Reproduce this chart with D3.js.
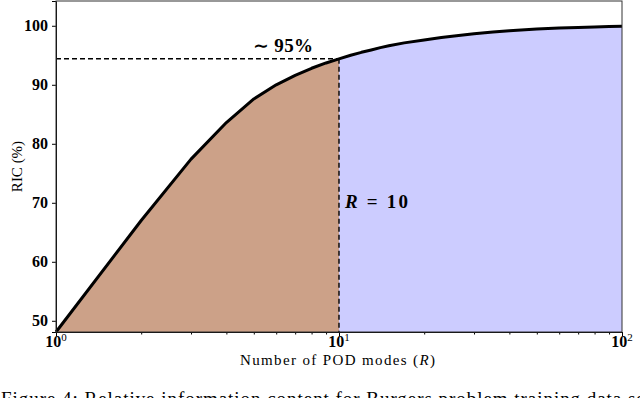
<!DOCTYPE html>
<html>
<head>
<meta charset="utf-8">
<script src="https://cdn.jsdelivr.net/npm/d3@7"></script>
<style>
  body { margin: 0; background: #fff; }
  svg text { font-family: "Liberation Serif", "DejaVu Serif", serif; }
</style>
</head>
<body>
<div id="chart"></div>
<script>
// number of POD modes and relative information content (%)
const modes = [1, 2, 3, 4, 5, 6, 7, 8, 9, 10, 11, 12, 13, 14, 15, 17, 20, 23, 26, 30, 35, 40, 50, 60, 70, 80, 90, 100];
const ric = [48.1, 67.0, 77.4, 83.6, 87.6, 90.0, 91.6, 92.8, 93.7, 94.4, 95.0, 95.5, 95.9, 96.3, 96.6, 97.1, 97.6, 98.0, 98.3, 98.65, 98.95, 99.15, 99.45, 99.62, 99.72, 99.8, 99.86, 99.9];
const cutoff = 10;
const yTicks = [50, 60, 70, 80, 90, 100];
const xTicks = [1, 10, 100];
const xTickExp = ["0", "1", "2"];

const data = modes.map((m, i) => ({ r: m, v: ric[i] }));
const cutVal = ric[modes.indexOf(cutoff)];

const width = 640, height = 398;
const margin = { top: 1, right: 18, bottom: 66, left: 56 };

const svg = d3.select("#chart").append("svg")
    .attr("width", width)
    .attr("height", height);

const x = d3.scaleLog()
    .domain([1, 100])
    .range([margin.left, width - margin.right]);

const y = d3.scaleLinear()
    .domain([48.1, 104.2])
    .range([height - margin.bottom, margin.top]);

const area = d3.area()
    .x(d => x(d.r))
    .y0(y(48.1))
    .y1(d => y(d.v));

svg.append("path")
    .datum(data.filter(d => d.r <= cutoff))
    .attr("fill", "#cca188")
    .attr("d", area);

svg.append("path")
    .datum(data.filter(d => d.r >= cutoff))
    .attr("fill", "#ccccff")
    .attr("d", area);

// dashed guides
svg.append("line")
    .attr("x1", x(1)).attr("x2", x(cutoff))
    .attr("y1", y(cutVal)).attr("y2", y(cutVal))
    .attr("stroke", "#000")
    .attr("stroke-width", 1.4)
    .attr("stroke-dasharray", "5,3");

svg.append("line")
    .attr("x1", x(cutoff)).attr("x2", x(cutoff))
    .attr("y1", y(cutVal)).attr("y2", y(48.1))
    .attr("stroke", "#000")
    .attr("stroke-width", 1.4)
    .attr("stroke-dasharray", "5,3");

svg.append("path")
    .datum(data)
    .attr("fill", "none")
    .attr("stroke", "#000")
    .attr("stroke-width", 3)
    .attr("stroke-linejoin", "round")
    .attr("d", d3.line().x(d => x(d.r)).y(d => y(d.v)));

// axes
const xAxis = svg.append("g")
    .attr("transform", `translate(0,${height - margin.bottom})`)
    .call(d3.axisBottom(x).tickValues(xTicks).tickSize(4).tickFormat(""));
xAxis.selectAll(".tick text").remove();

const minor = [];
[1, 10].forEach(b => { for (let k = 2; k <= 9; k++) minor.push(b * k); });
svg.append("g")
    .attr("transform", `translate(0,${height - margin.bottom})`)
    .call(d3.axisBottom(x).tickValues(minor).tickSize(2.5).tickFormat(""))
    .call(g => g.select(".domain").remove());

xTicks.forEach((t, i) => {
    const txt = svg.append("text")
        .attr("x", x(t))
        .attr("y", height - margin.bottom + 15)
        .attr("text-anchor", "middle")
        .style("font-size", "16px")
        .style("font-weight", "bold");
    txt.append("tspan").text("10");
    txt.append("tspan")
        .attr("dy", "-6")
        .style("font-size", "11px")
        .style("font-weight", "normal")
        .text(xTickExp[i]);
});

svg.append("g")
    .attr("transform", `translate(${margin.left},0)`)
    .call(d3.axisLeft(y).tickValues(yTicks).tickSize(4).tickPadding(4))
    .call(g => g.selectAll(".tick text")
        .style("font-size", "16px")
        .style("font-weight", "bold")
        .style("font-family", "'Liberation Serif', serif"));

// frame
svg.append("rect")
    .attr("x", margin.left)
    .attr("y", margin.top)
    .attr("width", width - margin.left - margin.right)
    .attr("height", height - margin.top - margin.bottom)
    .attr("fill", "none")
    .attr("stroke", "#333")
    .attr("stroke-width", 1);

// annotations
svg.append("text")
    .attr("x", 253)
    .attr("y", 52)
    .attr("textLength", 60)
    .attr("lengthAdjust", "spacing")
    .style("font-size", "19px")
    .style("font-weight", "bold")
    .text("∼ 95%");

const rLab = svg.append("text")
    .attr("x", 345)
    .attr("y", 208)
    .attr("textLength", 63)
    .attr("lengthAdjust", "spacing")
    .style("font-size", "19px")
    .style("font-weight", "bold");
rLab.append("tspan").style("font-style", "italic").text("R");
rLab.append("tspan").text(" = 10");

// axis labels
svg.append("text")
    .attr("transform", `translate(22,${(margin.top + height - margin.bottom) / 2}) rotate(-90)`)
    .attr("text-anchor", "middle")
    .style("font-size", "15px")
    .text("RIC (%)");

const xl = svg.append("text")
    .attr("x", 240)
    .attr("y", 365)
    .attr("textLength", 195)
    .attr("lengthAdjust", "spacing")
    .style("font-size", "15px");
xl.append("tspan").text("Number of POD modes (");
xl.append("tspan").style("font-style", "italic").text("R");
xl.append("tspan").text(")");

// caption, cut off by the window edge
svg.append("text")
    .attr("x", 1)
    .attr("y", 405)
    .attr("textLength", 650)
    .attr("lengthAdjust", "spacing")
    .style("font-size", "19px")
    .text("Figure 4: Relative information content for Burgers problem training data set");
</script>
</body>
</html>
